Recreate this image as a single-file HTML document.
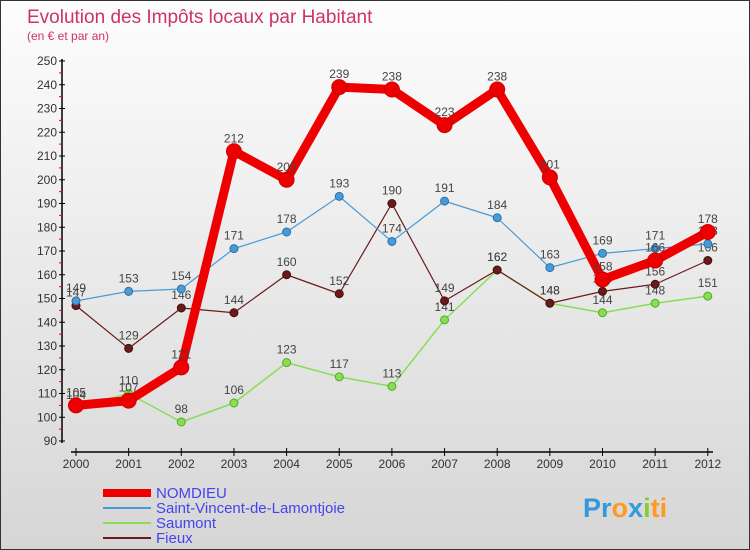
<!DOCTYPE html>
<html><head><meta charset="utf-8"><style>
body{margin:0;}
#c{position:relative;width:748px;height:548px;border:1px solid #333;background:linear-gradient(#fdfdfd,#d6d6d6);font-family:"Liberation Sans",sans-serif;overflow:hidden}
svg text{font-family:"Liberation Sans",sans-serif}
</style></head><body>
<div id="c">
<svg id="s" width="748" height="548">
<text x="26" y="22" font-size="19" fill="#cc3366">Evolution des Impôts locaux par Habitant</text>
<text x="26" y="39" font-size="12" fill="#cc3366">(en € et par an)</text>
<g id="g"></g>
</svg>
</div>
<script>
const years=["2000","2001","2002","2003","2004","2005","2006","2007","2008","2009","2010","2011","2012"];
const nomdieu=[105,107,121,212,200,239,238,223,238,201,158,166,178];
const stVincent=[149,153,154,171,178,193,174,191,184,163,169,171,173];
const saumont=[104,110,98,106,123,117,113,141,162,148,144,148,151];
const fieux=[147,129,146,144,160,152,190,149,162,148,153,156,166];
const yTicks=[90,100,110,120,130,140,150,160,170,180,190,200,210,220,230,240,250];
const NS="http://www.w3.org/2000/svg";
const g=document.getElementById('g');
const X=i=>75+i*52.65;
const Y=v=>440-(v-90)*2.375;
function el(t,a,p){const e=document.createElementNS(NS,t);for(const k in a)e.setAttribute(k,a[k]);(p||g).appendChild(e);return e;}
let e=el('line',{x1:61,y1:58,x2:61,y2:442,stroke:'#000','stroke-width':1.5});


yTicks.forEach(v=>{
 let t=el('line',{x1:58,y1:Y(v),x2:64,y2:Y(v),stroke:'#000'});
 
 
 let m=el('line',{x1:58,y1:Y(v+5),x2:61,y2:Y(v+5),stroke:'#e00'});
 if(v==250)m.remove();
 let l=el('text',{x:56,y:Y(v)+4,'text-anchor':'end','font-size':12,fill:'#333'});
 l.textContent=v;
 
 
});
e=el('line',{x1:70,y1:451,x2:712,y2:451,stroke:'#000','stroke-width':1.5});


years.forEach((y,i)=>{
 el('line',{x1:X(i),y1:447,x2:X(i),y2:455,stroke:'#000'});
 let l=el('text',{x:X(i),y:467,'text-anchor':'middle','font-size':12,fill:'#333'});
 l.textContent=y;
 
 
});
function series(data,color,w,r,name,dark){
 const sg=el('g',{});
 
 
 let p=el('polyline',{points:data.map((v,i)=>X(i)+','+Y(v)).join(' '),fill:'none',stroke:color,'stroke-width':w,'stroke-linejoin':'round'},sg);
 
 
 data.forEach((v,i)=>{
  let c=el('circle',{cx:X(i),cy:Y(v),r:r,fill:color,stroke:dark,'stroke-width':1},sg);
  
  
  let t=el('text',{x:X(i),y:Y(v)-9,'text-anchor':'middle','font-size':12,fill:'#444'},sg);
  t.textContent=v;
  
  
 });
}
series(saumont,'#88dd55',1.5,4,'saumont','#55aa22');
series(fieux,'#6b1a1a',1.2,4,'fieux','#401010');
series(stVincent,'#4a9ad6',1.2,4,'saint-vincent','#2a70a8');
series(nomdieu,'#ee0000',9,7.5,'nomdieu','#cc0000');
const leg=[['NOMDIEU','#ee0000',8],['Saint-Vincent-de-Lamontjoie','#4a9ad6',2],['Saumont','#88dd55',2],['Fieux','#6b1a1a',2]];
leg.forEach((L,i)=>{
 const y=492+i*15;
 let ln=el('line',{x1:102,y1:y,x2:150,y2:y,stroke:L[1],'stroke-width':L[2]});
 
 
 let t=el('text',{x:155,y:y+5,'font-size':15,fill:'#4444ee'});
 t.textContent=L[0];
 
 
});
let lg=el('text',{x:582,y:516,'font-size':27,'font-weight':'bold',fill:'#3399dd'});
lg.innerHTML='Pr<tspan fill="#ff9922">o</tspan><tspan fill="#3399dd">x</tspan><tspan fill="#88cc33">i</tspan><tspan fill="#ff9922">ti</tspan>';


</script>
</body></html>
